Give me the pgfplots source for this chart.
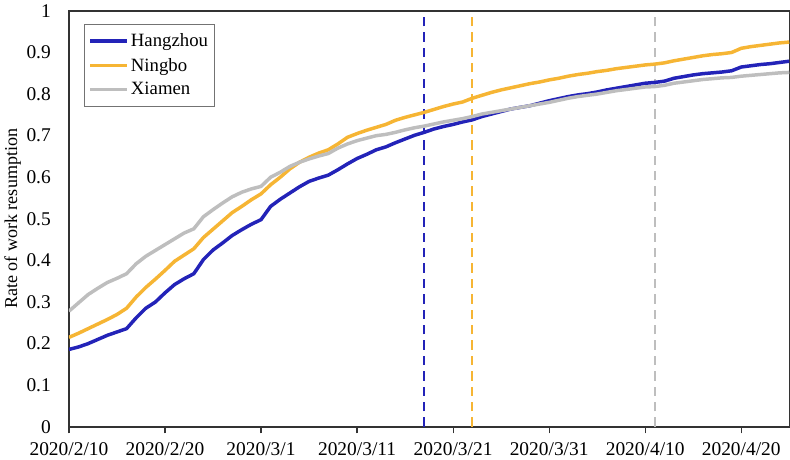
\documentclass[border=0pt]{standalone}
\usepackage{pgfplots}
\pgfplotsset{compat=1.18}
\usepackage{fontspec}
\setmainfont{Liberation Serif}
\definecolor{hz}{HTML}{2323B8}
\definecolor{nb}{HTML}{F6B534}
\definecolor{xm}{HTML}{BEBEBE}
\pgfplotstableread{
d y
0 0.186
1 0.192
2 0.200
3 0.210
4 0.220
5 0.228
6 0.236
7 0.262
8 0.285
9 0.300
10 0.322
11 0.342
12 0.356
13 0.368
14 0.402
15 0.425
16 0.442
17 0.460
18 0.474
19 0.487
20 0.498
21 0.530
22 0.547
23 0.562
24 0.577
25 0.590
26 0.598
27 0.605
28 0.618
29 0.632
30 0.645
31 0.655
32 0.666
33 0.673
34 0.683
35 0.692
36 0.701
37 0.708
38 0.716
39 0.722
40 0.727
41 0.733
42 0.738
43 0.746
44 0.752
45 0.758
46 0.764
47 0.768
48 0.772
49 0.778
50 0.784
51 0.789
52 0.794
53 0.798
54 0.801
55 0.805
56 0.810
57 0.814
58 0.818
59 0.822
60 0.826
61 0.828
62 0.831
63 0.838
64 0.842
65 0.846
66 0.849
67 0.851
68 0.853
69 0.856
70 0.865
71 0.868
72 0.871
73 0.873
74 0.876
75 0.879
}\hangzhou
\pgfplotstableread{
d y
0 0.215
1 0.225
2 0.236
3 0.247
4 0.258
5 0.270
6 0.285
7 0.312
8 0.335
9 0.355
10 0.376
11 0.398
12 0.413
13 0.428
14 0.455
15 0.475
16 0.495
17 0.515
18 0.530
19 0.546
20 0.560
21 0.582
22 0.600
23 0.620
24 0.636
25 0.648
26 0.658
27 0.666
28 0.680
29 0.696
30 0.705
31 0.713
32 0.720
33 0.727
34 0.737
35 0.744
36 0.750
37 0.756
38 0.763
39 0.770
40 0.776
41 0.781
42 0.790
43 0.797
44 0.804
45 0.810
46 0.815
47 0.820
48 0.825
49 0.829
50 0.834
51 0.838
52 0.843
53 0.847
54 0.850
55 0.854
56 0.857
57 0.861
58 0.864
59 0.867
60 0.870
61 0.872
62 0.875
63 0.880
64 0.884
65 0.888
66 0.892
67 0.895
68 0.897
69 0.900
70 0.910
71 0.914
72 0.917
73 0.920
74 0.923
75 0.925
}\ningbo
\pgfplotstableread{
d y
0 0.278
1 0.298
2 0.318
3 0.333
4 0.347
5 0.357
6 0.368
7 0.392
8 0.410
9 0.424
10 0.438
11 0.452
12 0.466
13 0.476
14 0.505
15 0.522
16 0.538
17 0.553
18 0.564
19 0.572
20 0.578
21 0.600
22 0.612
23 0.626
24 0.636
25 0.644
26 0.651
27 0.657
28 0.670
29 0.680
30 0.688
31 0.694
32 0.700
33 0.703
34 0.708
35 0.714
36 0.719
37 0.723
38 0.728
39 0.733
40 0.737
41 0.741
42 0.746
43 0.752
44 0.756
45 0.760
46 0.764
47 0.768
48 0.772
49 0.776
50 0.780
51 0.785
52 0.790
53 0.794
54 0.797
55 0.800
56 0.804
57 0.808
58 0.811
59 0.814
60 0.817
61 0.818
62 0.821
63 0.826
64 0.829
65 0.832
66 0.835
67 0.837
68 0.839
69 0.840
70 0.843
71 0.845
72 0.847
73 0.849
74 0.851
75 0.852
}\xiamen
\begin{document}
\begin{tikzpicture}
\begin{axis}[
  scale only axis, width=537.75pt, height=310.5pt,
  xmin=0, xmax=75, ymin=0, ymax=1,
  /pgf/number format/assume math mode=true,
  xtick={0,10,20,30,40,50,60,70},
  xticklabels={2020/2/10,2020/2/20,2020/3/1,2020/3/11,2020/3/21,2020/3/31,2020/4/10,2020/4/20},
  ytick={0,0.1,0.2,0.3,0.4,0.5,0.6,0.7,0.8,0.9,1},
  yticklabels={0,0.1,0.2,0.3,0.4,0.5,0.6,0.7,0.8,0.9,1},
  tick label style={font=\fontsize{14.5}{17}\selectfont},
  xticklabel style={yshift=-3pt},
  yticklabel style={xshift=-5pt},
  every axis y label/.style={at={(axis description cs:-0.078,0.5)}, rotate=90, anchor=center,
    font=\fontsize{13.5}{15}\selectfont},
  ylabel={Rate of work resumption},
  xtick pos=bottom, ytick pos=left,
  tick align=outside, major tick length=5pt,
  ytick style={draw=none},
  xtick style={draw=black!80, line width=0.9pt},
  axis line style={draw=black!80, line width=1.1pt},
  legend style={at={(0.021,0.969)}, anchor=north west, draw=black!55, line width=0.8pt,
    font=\fontsize{14}{16}\selectfont, row sep=3pt, inner xsep=3pt, inner ysep=5pt},
  legend cell align=left,
  legend image code/.code={\draw[#1] (0pt,0pt) -- (27pt,0pt);},
]
\addplot[draw=hz, dashed, dash pattern=on 7pt off 4.5pt, line width=1.5pt, forget plot] coordinates {(37,0) (37,1)};
\addplot[draw=nb, dashed, dash pattern=on 7pt off 4.5pt, line width=1.5pt, forget plot] coordinates {(42,0) (42,1)};
\addplot[draw=xm, dashed, dash pattern=on 7pt off 4.5pt, line width=1.5pt, forget plot] coordinates {(61,0) (61,1)};
\addplot[draw=hz, line width=2.6pt, no markers] table[x=d,y=y] {\hangzhou};
\addlegendentry{Hangzhou}
\addplot[draw=nb, line width=2.6pt, no markers] table[x=d,y=y] {\ningbo};
\addlegendentry{Ningbo}
\addplot[draw=xm, line width=2.6pt, no markers] table[x=d,y=y] {\xiamen};
\addlegendentry{Xiamen}
\end{axis}
\end{tikzpicture}
\end{document}
